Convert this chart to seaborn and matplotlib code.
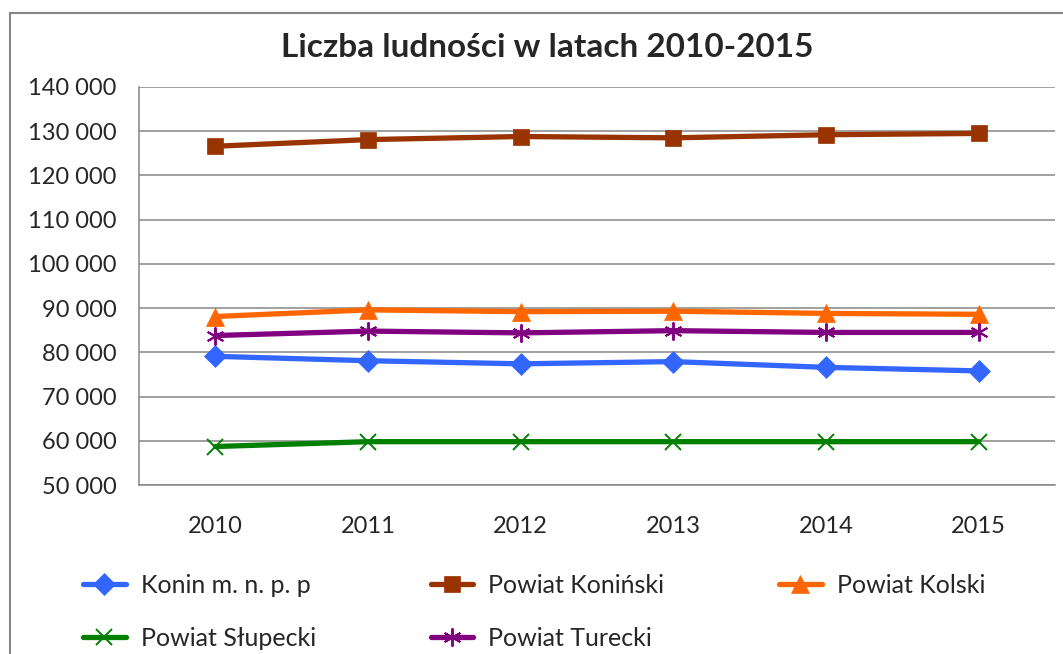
import numpy as np
import pandas as pd
import matplotlib
matplotlib.use("Agg")
import matplotlib.pyplot as plt
import seaborn as sns
from matplotlib.patches import Rectangle
from matplotlib.ticker import FuncFormatter, FixedLocator

# values
years = [2010, 2011, 2012, 2013, 2014, 2015]
konin = [79100, 78100, 77400, 77900, 76600, 75800]
koninski = [126600, 128100, 128800, 128500, 129200, 129500]
kolski = [88100, 89600, 89200, 89300, 88800, 88600]
slupecki = [58700, 59800, 59800, 59800, 59800, 59800]
turecki = [83800, 84800, 84400, 84900, 84500, 84500]

names = ["Konin m. n. p. p", "Powiat Koniński", "Powiat Kolski",
         "Powiat Słupecki", "Powiat Turecki"]
colors = ["#3366FF", "#993300", "#FF6600", "#008000", "#800080"]
marker_list = ["D", "s", "^", "x", (6, 2, 0)]
marker_sizes = [11, 11, 13, 12, 13]

title = "Liczba ludności w latach 2010-2015"

series = [konin, koninski, kolski, slupecki, turecki]
df = pd.DataFrame({
    "rok": np.tile(years, len(names)),
    "ludnosc": np.concatenate(series),
    "jednostka": np.repeat(names, len(years)),
})

sns.set_style("white")
plt.rcParams["font.family"] = ["Lato", "DejaVu Sans"]

fig = plt.figure(figsize=(10.63, 6.54), dpi=100)
ax = fig.add_axes([0.1308, 0.2584, 0.9925 - 0.1308, 0.867 - 0.2584])

handles = {}
for name, col, mk, ms in zip(names, colors, marker_list, marker_sizes):
    sub = df[df["jednostka"] == name]
    unfilled = mk == "x" or isinstance(mk, tuple)
    sns.lineplot(
        data=sub, x="rok", y="ludnosc", color=col, marker=mk,
        markersize=ms, markeredgecolor=col, markerfacecolor=col,
        markeredgewidth=1.4 if unfilled else 0.5,
        linewidth=3.8, ax=ax, zorder=3, label=name,
    )
    handles[name] = ax.lines[-1]

ax.set_xlim(2009.5, 2015.5)
ax.set_ylim(50000, 140000)
ax.set_yticks(np.arange(50000, 140001, 10000))
ax.yaxis.set_major_formatter(FuncFormatter(lambda v, p: f"{int(v):,}".replace(",", " ")))

ax.xaxis.set_major_locator(FixedLocator(np.arange(2009.5, 2016, 1)))
ax.xaxis.set_major_formatter(FuncFormatter(lambda v, p: ""))
ax.xaxis.set_minor_locator(FixedLocator(years))
ax.xaxis.set_minor_formatter(FuncFormatter(lambda v, p: str(int(round(v)))))
ax.tick_params(axis="x", which="major", length=6.5, width=1.1, color="#868686", direction="out")
ax.tick_params(axis="x", which="minor", length=0, pad=22, labelsize=17)
ax.tick_params(axis="y", length=7, width=1.1, color="#868686", direction="out", pad=9, labelsize=17)

ax.grid(axis="y", color="#868686", linewidth=1.1)
ax.set_axisbelow(True)
for side in ["top", "right"]:
    ax.spines[side].set_visible(False)
for side in ["left", "bottom"]:
    ax.spines[side].set_color("#868686")
    ax.spines[side].set_linewidth(1.1)
ax.set_xlabel("")
ax.set_ylabel("")

order = [names[0], names[3], names[1], names[4], names[2]]
ax.legend([handles[n] for n in order], order, ncol=3, loc="upper left",
          bbox_to_anchor=(-0.072, -0.198), frameon=False, fontsize=18,
          handlelength=1.7, handletextpad=0.6, columnspacing=4.6,
          labelspacing=1.2, borderaxespad=0)

fig.text(0.515, 0.928, title, ha="center", va="center",
         fontsize=24, fontweight="bold")

fig.patches.append(Rectangle((10 / 1063, -0.05), 1.2, 1 - 13 / 654 + 0.05,
                             transform=fig.transFigure, fill=False,
                             edgecolor="#868686", linewidth=1.5))

fig.savefig("out.png", dpi=100)
